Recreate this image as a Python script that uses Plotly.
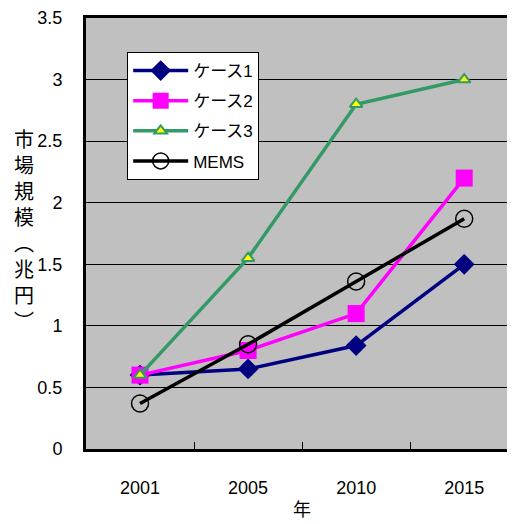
import plotly.graph_objects as go

years = ["2001", "2005", "2010", "2015"]
case1 = [0.60, 0.65, 0.84, 1.50]
case2 = [0.60, 0.80, 1.10, 2.20]
case3 = [0.60, 1.55, 2.80, 3.00]
mems = [0.37, 0.85, 1.36, 1.87]
names = ["ケース1", "ケース2", "ケース3", "MEMS"]
yticks = [0, 0.5, 1, 1.5, 2, 2.5, 3, 3.5]
yticklabels = ["0", "0.5", "1", "1.5", "2", "2.5", "3", "3.5"]
ytitle_chars = ["市", "場", "規", "模", "︵", "兆", "円", "︶"]
xtitle = "年"

fig = go.Figure()
fig.add_trace(go.Scatter(x=years, y=case1, name=names[0], mode="lines+markers", legendgroup="a",
                         line=dict(color="#000080", width=3.5),
                         marker=dict(symbol="diamond", size=16, color="#000080")))
fig.add_trace(go.Scatter(x=years, y=case2, name=names[1], mode="lines+markers", legendgroup="b",
                         line=dict(color="#FF00FF", width=3.5),
                         marker=dict(symbol="square", size=17, color="#FF00FF")))
fig.add_trace(go.Scatter(x=years, y=case3, name=names[2], mode="lines+markers", legendgroup="c",
                         line=dict(color="#339966", width=3.5),
                         marker=dict(symbol="triangle-up", size=11, color="#FFFF00",
                                     line=dict(color="#339966", width=2))))
fig.add_trace(go.Scatter(x=years, y=mems, name=names[3], mode="lines+markers", legendgroup="d",
                         line=dict(color="#000000", width=3.5),
                         marker=dict(symbol="circle-open", size=17, color="#000000",
                                     line=dict(width=1.5))))

# page body has an 8px default margin, so the figure is sized/offset to compensate
fig.update_layout(
    width=507, height=516,
    margin=dict(l=78, r=0, t=10, b=75, autoexpand=False),
    paper_bgcolor="white",
    plot_bgcolor="#C0C0C0",
    font=dict(family="Liberation Sans, Arial, sans-serif", size=18, color="black"),
    showlegend=True,
    legend=dict(x=0.096, y=0.921, xanchor="left", yanchor="top",
                bgcolor="white", bordercolor="black", borderwidth=1,
                font=dict(family="Liberation Sans, Noto Sans CJK JP, sans-serif", size=17),
                tracegroupgap=5, itemwidth=55),
    xaxis=dict(type="category", range=[-0.5, 3.47], showgrid=False, automargin=False,
               showline=True, linecolor="black", linewidth=3, mirror=True,
               ticks="inside", tickson="boundaries", ticklen=7, tickcolor="black", tickwidth=1,
               ticklabelstandoff=20, tickfont=dict(size=18)),
    yaxis=dict(range=[0, 3.5], tickvals=yticks, ticktext=yticklabels, automargin=False,
               showgrid=True, gridcolor="black", gridwidth=1,
               showline=True, linecolor="black", linewidth=3, mirror=True,
               ticks="", ticklabelstandoff=17, zeroline=False, tickfont=dict(size=18)),
    annotations=[
        dict(text="<br>".join(ytitle_chars), xref="paper", yref="paper",
             x=-0.1445, y=0.506, xanchor="center", yanchor="middle", showarrow=False,
             font=dict(family="Liberation Sans, Noto Sans CJK JP, sans-serif", size=20),
             align="center"),
        dict(text=xtitle, xref="paper", yref="paper", x=0.5035, y=-0.1415,
             xanchor="center", yanchor="middle", showarrow=False,
             font=dict(family="Liberation Sans, Noto Sans CJK JP, sans-serif", size=18)),
    ],
)

fig.write_html("out.html")
